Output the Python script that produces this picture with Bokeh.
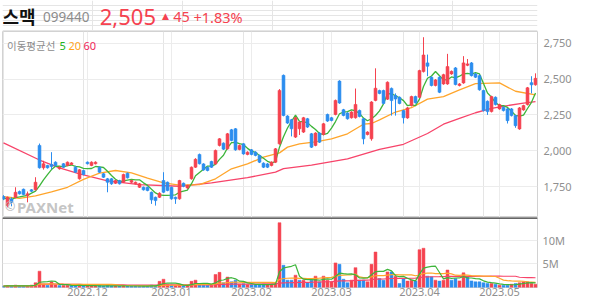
import pandas as pd
from bokeh.plotting import figure
from bokeh.layouts import column
from bokeh.models import Range1d, FixedTicker, NumeralTickFormatter, Label, Span, Grid, ColumnDataSource
from bokeh.embed import file_html
from bokeh.resources import INLINE

# ---------------- data ----------------
opens = [1680,1617,1663,1675,1715,1731,1687,1727,1727,2037, 1881,1897,1904,1920,1874,1909,1897,1904,1885,1804,
         1862,1920,1897,1909,1885,1839,1804,1804,1773,1792, 1780,1843,1780,1769,1745,1745,1745,1710,1675,1675,
         1792,1780,1745,1675,1664,1773,1740,1804,1885,1974, 1908,1885,1925,1908,2037,2053,2013,2146,2153,2009,
         2048,1974,2006,1990,1967,1913,1908,1897,1920,2048, 2526,2242,2216,2095,2153,2130,2223,2118,2037,2123,
         2113,2253,2230,2253,2486,2286,2263,2230,2230,2281, 2223,2113,2083,2351,2420,2420,2360,2435,2385,2373,
         2280,2229,2315,2378,2373,2552,2613,2513,2455,2513, 2466,2466,2536,2578,2455,2473,2596,2613,2536,2524,
         2420,2345,2273,2373,2292,2303,2292,2292,2245,2152, 2285,2322,2475,2460]
closes = [1664,1675,1640,1710,1699,1694,1699,1717,1780,1881, 1909,1881,1890,1897,1885,1885,1920,1915,1850,1867,
          1834,1909,1920,1920,1850,1815,1780,1769,1792,1769, 1834,1811,1792,1780,1769,1727,1722,1657,1652,1703,
          1710,1722,1664,1664,1792,1752,1757,1885,1940,1909, 1866,1862,1885,2002,2083,2011,2118,2072,2006,2037,
          1978,1990,1974,1967,1920,1885,1885,1920,2013,2421, 2246,2193,2153,2230,2200,2230,2165,2025,2123,2060,
          2188,2207,2211,2351,2333,2246,2223,2270,2323,2239, 2083,2130,2340,2436,2400,2330,2478,2350,2361,2330,
          2230,2299,2378,2335,2559,2668,2590,2455,2494,2408, 2531,2587,2554,2462,2466,2613,2606,2524,2513,2425,
          2280,2273,2378,2322,2322,2280,2210,2245,2175,2299, 2315,2439,2460,2505]
highs = [1690,1680,1675,1745,1722,1736,1715,1732,1815,2050, 1930,1902,1990,1926,1892,1914,1925,1920,1895,1872,
         1868,1925,1926,1926,1890,1844,1810,1810,1797,1797, 1840,1848,1797,1785,1775,1750,1750,1715,1680,1710,
         1850,1785,1750,1680,1797,1778,1762,1890,1948,1980, 1913,1890,1930,2008,2088,2058,2124,2152,2158,2043,
         2053,1996,2012,1996,1973,1919,1914,1926,2019,2430, 2532,2248,2222,2236,2206,2236,2229,2124,2129,2129,
         2194,2259,2236,2357,2492,2292,2269,2276,2434,2287, 2229,2136,2346,2575,2426,2426,2484,2441,2400,2379,
         2286,2305,2384,2384,2565,2792,2671,2519,2500,2519, 2537,2676,2560,2584,2472,2660,2640,2619,2542,2530,
         2426,2351,2384,2379,2328,2309,2298,2298,2251,2305, 2321,2445,2520,2540]
lows = [1655,1605,1612,1668,1694,1690,1640,1712,1722,1875, 1868,1875,1870,1890,1868,1880,1892,1900,1845,1798,
        1828,1904,1892,1904,1845,1810,1710,1762,1768,1764, 1775,1806,1775,1764,1740,1722,1717,1629,1617,1670,
        1705,1717,1658,1629,1658,1745,1734,1798,1880,1904, 1860,1856,1880,1902,2030,2005,2007,2066,2000,2003,
        1972,1968,1968,1961,1914,1879,1879,1891,1914,2042, 2240,2187,2100,2089,2110,2124,2159,2019,2031,2054,
        2107,2201,2205,2247,2327,2240,2217,2224,2224,2233, 2045,2107,2070,2345,2394,2324,2354,2245,2245,2324,
        2190,2223,2309,2329,2367,2546,2520,2449,2449,2402, 2460,2460,2530,2456,2449,2467,2590,2518,2507,2419,
        2274,2250,2267,2316,2286,2274,2190,2239,2160,2146, 2279,2316,2400,2454]
volumes_m = [0.3,0.4,0.3,0.5,0.3,0.3,0.3,0.5,1.0,3.45, 0.7,0.5,1.2,0.6,0.4,0.4,0.5,0.4,0.4,0.5,
             0.3,0.4,0.4,0.3,0.4,0.3,0.4,0.3,0.3,0.3, 0.4,0.3,0.3,0.3,0.3,0.3,0.3,0.5,0.4,1.3,
             1.75,0.6,0.5,0.4,0.6,0.4,0.4,1.3,1.55,0.6, 0.5,0.5,0.5,2.75,3.2,1.0,2.2,1.2,1.55,0.7,
             0.8,0.6,0.6,0.6,0.6,0.7,0.6,0.7,0.9,13.7, 4.7,1.55,1.55,2.6,1.55,1.55,1.0,1.55,2.4,1.2,
             2.4,1.55,1.2,5.2,4.9,1.75,1.0,1.55,4.2,1.55, 1.55,1.2,4.9,7.5,1.9,1.55,3.3,3.3,2.4,0.85,
             1.9,1.35,1.55,1.35,8.0,8.3,2.4,2.25,1.55,1.35, 1.55,3.7,1.55,1.9,1.4,3.1,2.25,1.4,1.2,1.2,
             1.0,0.85,0.85,0.7,0.5,0.5,0.5,0.7,0.85,1.0, 1.2,1.2,0.85,0.7]

# moving averages (candle index, price)
ma20_idx = [0,4,8,12,16,20,24,28,32,36,40,44,49,53,57,61,65,69,71,74,78,82,86,90,92,94,98,102,106,110,114,118,124,128,133]
ma20_val = [1680,1668,1685,1712,1745,1800,1843,1862,1845,1808,1775,1760,1764,1804,1874,1908,1955,1985,2025,2048,
            2062,2083,2118,2185,2190,2215,2270,2300,2360,2378,2424,2468,2473,2415,2390]
ma60_idx = [0,9,14,19,26,34,44,52,61,68,70,77,86,94,100,106,110,114,118,122,126,130,133]
ma60_val = [2055,1935,1881,1839,1790,1764,1752,1775,1812,1850,1875,1900,1943,2010,2045,2120,2185,2225,2265,2295,
            2315,2332,2343]

month_idx = [21, 42, 62, 82, 104, 124]
month_labels = ["2022.12", "2023.01", "2023.02", "2023.03", "2023.04", "2023.05"]
price_ticks = [1750, 2000, 2250, 2500, 2750]
vol_ticks = [5, 10]
vol_tick_labels = ["5M", "10M"]

# ---------------- styles ----------------
UP = "#f5424f"
DOWN = "#2b8def"
MA5_C = "#3db53a"
MA20_C = "#ffa52b"
MA60_C = "#f7446a"
GRID = "#ececec"
FRAME = "#d2d2d2"
TXT = "#8f8f8f"
LATIN = "Noto Sans"
KR = "Noto Sans CJK KR"

n = len(opens)
idx = list(range(n))
cols = [UP if c >= o else DOWN for o, c in zip(opens, closes)]
vcols = [cols[0]] + [UP if closes[i] >= closes[i - 1] else DOWN for i in range(1, n)]
ma5 = pd.Series(closes).rolling(5, min_periods=1).mean().tolist()
vs = pd.Series(volumes_m)
vma5 = vs.rolling(5, min_periods=1).mean().tolist()
vma20 = vs.rolling(20, min_periods=1).mean().tolist()
vma60 = vs.rolling(60, min_periods=1).mean().tolist()

src = ColumnDataSource(dict(
    x=idx, high=highs, low=lows,
    top=[max(o, c) for o, c in zip(opens, closes)],
    bot=[min(o, c) for o, c in zip(opens, closes)],
    col=cols, vol=volumes_m, vcol=vcols, ma5=ma5,
    vma5=vma5, vma20=vma20, vma60=vma60))

Y0, Y1 = 1534, 2832          # price range of the frame (pixel 31 .. 217)


def py(pix):                  # page pixel row -> price (for overlay texts)
    return Y1 - (pix - 31) * (Y1 - Y0) / 186.0


def ix(pix):                  # page pixel column -> candle index (for overlay texts)
    return (pix - 3) / 4.0


def style_axis(a, standoff):
    a.axis_line_color = None
    a.major_tick_line_color = None
    a.minor_tick_line_color = None
    a.major_tick_out = 0
    a.major_tick_in = 0
    a.minor_tick_out = 0
    a.minor_tick_in = 0
    a.major_label_standoff = standoff
    a.major_label_text_font = LATIN
    a.major_label_text_font_size = "11px"
    a.major_label_text_color = TXT


# ---------------- header ----------------
h = figure(width=594, height=31, x_range=Range1d(0, 594), y_range=Range1d(31, 0),
           x_axis_location=None, y_axis_location=None, output_backend="svg",
           toolbar_location=None, min_border=0, outline_line_color=None)
h.add_layout(Label(x=0, y=15.5, text="스맥", text_font=KR, text_font_size="18px",
                   text_font_style="bold", text_color="#111111", text_baseline="alphabetic"))
h.add_layout(Label(x=45, y=16.7, text="099440", text_font=LATIN, text_font_size="13.5px",
                   text_color="#8c8c8c", text_baseline="alphabetic"))
h.add_layout(Label(x=108, y=16.7, text="2,505", text_font=LATIN, text_font_size="22px",
                   text_color=UP, text_baseline="alphabetic"))
h.add_layout(Label(x=177, y=15, text="▲", text_font="DejaVu Sans", text_font_size="9px",
                   text_color=UP, text_baseline="alphabetic"))
h.add_layout(Label(x=189.5, y=16.7, text="45", text_font=LATIN, text_font_size="14.5px",
                   text_color=UP, text_baseline="alphabetic"))
h.add_layout(Label(x=212, y=16.7, text="+1.83%", text_font=LATIN, text_font_size="14.5px",
                   text_color=UP, text_baseline="alphabetic"))

# ---------------- price panel ----------------
p = figure(width=594, height=186, x_range=Range1d(-0.25, 133.5), y_range=Range1d(Y0, Y1),
           x_axis_location=None, y_axis_location="right", output_backend="svg",
           toolbar_location=None, min_border_left=2, min_border_right=57,
           min_border_top=0, min_border_bottom=0, outline_line_color=FRAME)
p.ygrid.ticker = FixedTicker(ticks=price_ticks)
p.ygrid.grid_line_color = GRID
p.add_layout(Grid(dimension=0, ticker=FixedTicker(ticks=month_idx), grid_line_color=GRID))
ax = p.yaxis[0]
ax.ticker = FixedTicker(ticks=price_ticks)
ax.formatter = NumeralTickFormatter(format="0,0")
style_axis(ax, 6)

p.line(ma60_idx, ma60_val, color=MA60_C, line_width=1.3)
p.line(ma20_idx, ma20_val, color=MA20_C, line_width=1.3)
p.line("x", "ma5", source=src, color=MA5_C, line_width=1.3)
p.segment(x0="x", y0="high", x1="x", y1="low", color="col", line_width=1, source=src)
p.vbar(x="x", width=0.72, top="top", bottom="bot", fill_color="col", line_color="col",
       line_width=0.6, source=src)

p.add_layout(Label(x=ix(6.5), y=py(45), text="이동평균선", text_font=KR, text_font_size="10.5px",
                   text_color="#8c8c8c", text_baseline="alphabetic"))
p.add_layout(Label(x=ix(59), y=py(45), text="5", text_font=LATIN, text_font_size="11px",
                   text_color="#22b322", text_baseline="alphabetic"))
p.add_layout(Label(x=ix(68), y=py(45), text="20", text_font=LATIN, text_font_size="11px",
                   text_color="#ffa31a", text_baseline="alphabetic"))
p.add_layout(Label(x=ix(83), y=py(45), text="60", text_font=LATIN, text_font_size="11px",
                   text_color="#f01e5a", text_baseline="alphabetic"))
p.add_layout(Label(x=ix(4.5), y=py(206), text="©", text_font=LATIN, text_font_size="12.5px",
                   text_color="#b8b8b8", text_baseline="middle"))
p.add_layout(Label(x=ix(16.5), y=py(206), text="PAXNet", text_font=LATIN, text_font_size="15px",
                   text_font_style="bold", text_color="#bdbdbd", text_alpha=0.9,
                   text_baseline="middle"))

# ---------------- volume panel ----------------
v = figure(width=594, height=87, x_range=p.x_range, y_range=Range1d(0, 14.8),
           y_axis_location="right", output_backend="svg", toolbar_location=None,
           min_border_left=2, min_border_right=57, min_border_top=0, min_border_bottom=17,
           outline_line_color=FRAME)
v.ygrid.ticker = FixedTicker(ticks=vol_ticks)
v.ygrid.grid_line_color = GRID
v.xgrid.ticker = FixedTicker(ticks=month_idx)
v.xgrid.grid_line_color = GRID
vy = v.yaxis[0]
vy.ticker = FixedTicker(ticks=vol_ticks)
vy.major_label_overrides = dict(zip(vol_ticks, vol_tick_labels))
style_axis(vy, 5)
vx = v.xaxis[0]
vx.ticker = FixedTicker(ticks=month_idx)
vx.major_label_overrides = dict(zip(month_idx, month_labels))
style_axis(vx, 0)

v.vbar(x="x", width=0.72, top="vol", bottom=0, fill_color="vcol", line_color="vcol",
       line_width=0.5, source=src)
v.line("x", "vma60", source=src, color=MA60_C, line_width=1.2)
v.line("x", "vma20", source=src, color=MA20_C, line_width=1.2)
v.line("x", "vma5", source=src, color=MA5_C, line_width=1.2)
v.add_layout(Span(location=14.7, dimension="width", line_color="#333333", line_width=1.5))

layout = column(h, p, v, spacing=0)
open("out.html", "w").write(file_html(layout, INLINE))
